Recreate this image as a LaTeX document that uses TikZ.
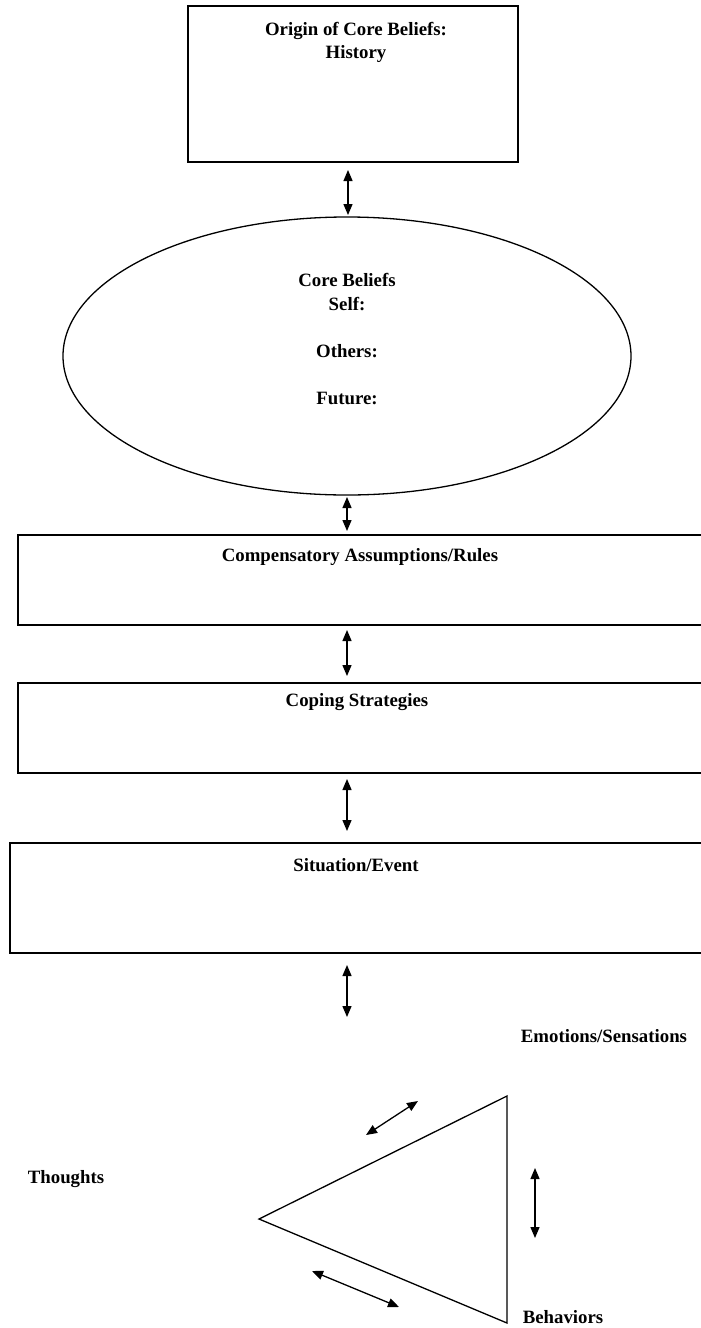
\documentclass[tikz,border=0pt]{standalone}
\usepackage{fontspec}
\setmainfont{Liberation Serif}
\usetikzlibrary{shapes.geometric,arrows.meta}
\begin{document}
\begin{tikzpicture}[x=1pt,y=-1pt,
  frame/.style={draw,line width=1.3pt,rectangle,inner sep=0pt},
  lbl/.style={anchor=base,inner sep=0pt,font=\fontsize{18.8}{22}\selectfont\bfseries},
  dbl/.style={{Triangle[length=11pt,width=9pt]}-{Triangle[length=11pt,width=9pt]},line width=1.3pt}]
\useasboundingbox (0,0) rectangle (701,1328);
\clip (0,0) rectangle (701,1328);

% stacked boxes and the core-belief ellipse
\node[frame,minimum width=330pt,minimum height=156pt] (origin) at (353,84) {};
\node[draw,line width=1.3pt,ellipse,inner sep=0pt,minimum width=568pt,minimum height=278pt] (core) at (347,356) {};
\node[frame,minimum width=700pt,minimum height=90pt] (rules) at (368,580) {};
\node[frame,minimum width=700pt,minimum height=90pt] (coping) at (368,728) {};
\node[frame,minimum width=710pt,minimum height=110pt] (event) at (365,898) {};

% box and ellipse texts
\node[lbl] (originT) at (356,35) {Origin of Core Beliefs:};
\node[lbl] (historyT) at (356,58) {History};
\node[lbl] (coreT) at (347,286) {Core Beliefs};
\node[lbl] (selfT) at (347,310) {Self:};
\node[lbl] (othersT) at (347,357) {Others:};
\node[lbl] (futureT) at (347,404) {Future:};
\node[lbl] (rulesT) at (360,561) {Compensatory Assumptions/Rules};
\node[lbl] (copingT) at (357,706) {Coping Strategies};
\node[lbl] (eventT) at (356,871) {Situation/Event};

% corner labels of the cognitive triangle
\node[lbl] (emoT) at (604,1042) {Emotions/Sensations};
\node[lbl] (thoT) at (66,1183) {Thoughts};
\node[lbl] (behT) at (563,1323) {Behaviors};

% vertical two-way connectors
\coordinate (a1s) at (348,170); \coordinate (a1e) at (348,215);
\draw[dbl] (a1s) -- (a1e);
\coordinate (a2s) at (347,497); \coordinate (a2e) at (347,531);
\draw[dbl] (a2s) -- (a2e);
\coordinate (a3s) at (347,630); \coordinate (a3e) at (347,676);
\draw[dbl] (a3s) -- (a3e);
\coordinate (a4s) at (347,779); \coordinate (a4e) at (347,831);
\draw[dbl] (a4s) -- (a4e);
\coordinate (a5s) at (347,965); \coordinate (a5e) at (347,1017);
\draw[dbl] (a5s) -- (a5e);

% cognitive triangle
\coordinate (tl) at (259,1219);
\coordinate (tt) at (507,1096);
\coordinate (tb) at (507,1323);
\draw[line width=1.3pt] (tl) -- (tt) -- (tb) -- cycle;

% two-way connectors around the triangle
\coordinate (b1s) at (366,1135); \coordinate (b1e) at (418,1101);
\draw[dbl] (b1s) -- (b1e);
\coordinate (b2s) at (535,1168); \coordinate (b2e) at (535,1238);
\draw[dbl] (b2s) -- (b2e);
\coordinate (b3s) at (312,1271); \coordinate (b3e) at (399,1307);
\draw[dbl] (b3s) -- (b3e);
\end{tikzpicture}
\end{document}
